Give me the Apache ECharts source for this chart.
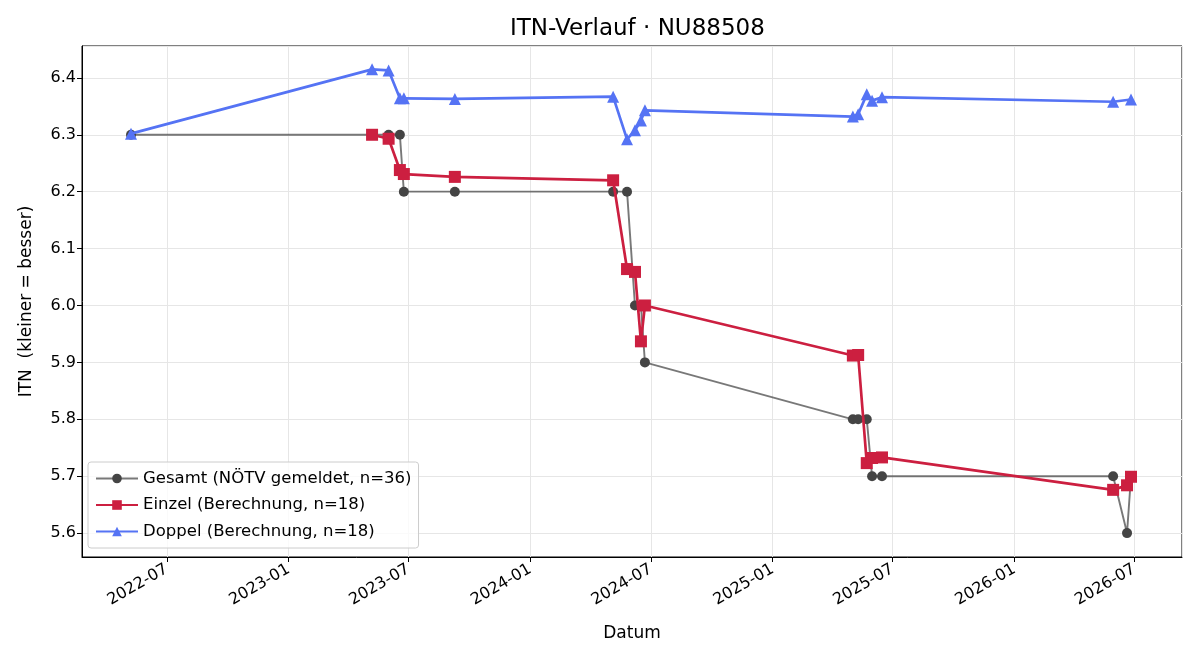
<!DOCTYPE html>
<html>
<head>
    <meta charset="utf-8">
    <title>ITN-Verlauf</title>
    <script src="https://cdn.jsdelivr.net/npm/echarts@6/dist/echarts.min.js"></script>
    <style>
        html, body { margin: 0; padding: 0; background: #fff; }
        #chart1 { width: 1200px; height: 660px; }
    </style>
</head>
<body>
<div id="chart1"></div>
<script type="text/javascript">

    // Gesamt (NÖTV gemeldet)
    var gesamtDates = ['2022-05-08', '2023-05-07', '2023-06-01', '2023-06-18', '2023-06-24', '2023-09-09',
        '2024-05-05', '2024-05-26', '2024-06-07', '2024-06-16', '2024-06-22',
        '2025-05-02', '2025-05-10', '2025-05-23', '2025-05-31', '2025-06-15',
        '2026-05-30', '2026-06-20', '2026-06-26'];
    var gesamtValues = [6.3, 6.3, 6.3, 6.3, 6.2, 6.2,
        6.2, 6.2, 6.0, 6.0, 5.9,
        5.8, 5.8, 5.8, 5.7, 5.7,
        5.7, 5.6, 5.7];

    // Einzel (Berechnung)
    var einzelDates = ['2023-05-07', '2023-06-01', '2023-06-18', '2023-06-24', '2023-09-09',
        '2024-05-05', '2024-05-26', '2024-06-07', '2024-06-16', '2024-06-22',
        '2025-05-02', '2025-05-10', '2025-05-23', '2025-05-31', '2025-06-15',
        '2026-05-30', '2026-06-20', '2026-06-26'];
    var einzelValues = [6.300, 6.293, 6.238, 6.231, 6.226,
        6.220, 6.064, 6.059, 5.937, 6.000,
        5.912, 5.913, 5.723, 5.732, 5.733,
        5.676, 5.684, 5.699];

    // Doppel (Berechnung)
    var doppelDates = ['2022-05-08', '2023-05-07', '2023-06-01', '2023-06-18', '2023-06-24', '2023-09-09',
        '2024-05-05', '2024-05-26', '2024-06-07', '2024-06-16', '2024-06-22',
        '2025-05-02', '2025-05-10', '2025-05-23', '2025-05-31', '2025-06-15',
        '2026-05-30', '2026-06-26'];
    var doppelValues = [6.302, 6.415, 6.413, 6.364, 6.364, 6.363,
        6.367, 6.292, 6.308, 6.325, 6.343,
        6.332, 6.336, 6.371, 6.360, 6.366,
        6.358, 6.362];

    function pairs(dates, values) {
        return dates.map(function (d, i) { return [d, values[i]]; });
    }

    var font = 'DejaVu Sans';
    var myChart1 = echarts.init(document.getElementById('chart1'));

    myChart1.setOption({
        animation: false,
        textStyle: { fontFamily: font },
        title: {
            text: 'ITN-Verlauf · NU88508',
            left: 505,
            top: 13,
            textStyle: { fontFamily: font, fontSize: 23, fontWeight: 'normal', color: '#000' }
        },
        grid: {
            left: 82, right: 18, top: 46, bottom: 103,
            show: true, borderColor: '#000', borderWidth: 1
        },
        legend: {
            orient: 'vertical',
            left: 88, top: 462,
            itemWidth: 42, itemHeight: 12, itemGap: 9.5,
            padding: [8, 7, 8, 7],
            borderColor: '#cccccc', borderWidth: 1, borderRadius: 3,
            backgroundColor: 'rgba(255,255,255,0.8)',
            textStyle: { fontFamily: font, fontSize: 16.5, color: '#000' },
            data: ['Gesamt (NÖTV gemeldet, n=36)', 'Einzel (Berechnung, n=18)', 'Doppel (Berechnung, n=18)']
        },
        xAxis: {
            type: 'time',
            min: '2022-02-23',
            max: '2026-09-11',
            minInterval: 180 * 86400000,
            maxInterval: 184 * 86400000,
            name: 'Datum',
            nameLocation: 'middle',
            nameGap: 68,
            nameTextStyle: { fontFamily: font, fontSize: 17, color: '#000' },
            axisLine: { show: true, lineStyle: { color: '#000' } },
            axisTick: { show: true, length: 5, lineStyle: { color: '#000' } },
            axisLabel: {
                rotate: 30,
                margin: 11,
                fontFamily: font, fontSize: 16, color: '#000',
                showMinLabel: false, showMaxLabel: false,
                formatter: function (v) { return echarts.time.format(v, '{yyyy}-{MM}', false); }
            },
            splitLine: { show: true, lineStyle: { color: '#e6e6e6' } }
        },
        yAxis: {
            type: 'value',
            min: 5.558,
            max: 6.456,
            splitNumber: 9,
            name: 'ITN  (kleiner = besser)',
            nameLocation: 'middle',
            nameGap: 47,
            nameTextStyle: { fontFamily: font, fontSize: 17, color: '#000' },
            axisLine: { show: true, lineStyle: { color: '#000' } },
            axisTick: { show: true, length: 5, lineStyle: { color: '#000' } },
            axisLabel: {
                margin: 6,
                fontFamily: font, fontSize: 16, color: '#000',
                showMinLabel: false, showMaxLabel: false,
                formatter: function (v) { return v.toFixed(1); }
            },
            splitLine: { show: true, lineStyle: { color: '#e6e6e6' } }
        },
        series: [{
            name: 'Gesamt (NÖTV gemeldet, n=36)',
            type: 'line',
            data: pairs(gesamtDates, gesamtValues),
            symbol: 'circle',
            symbolSize: 10,
            lineStyle: { color: 'rgba(68,68,68,0.72)', width: 1.9 },
            itemStyle: { color: '#444444' },
            z: 2
        }, {
            name: 'Einzel (Berechnung, n=18)',
            type: 'line',
            data: pairs(einzelDates, einzelValues),
            symbol: 'rect',
            symbolSize: 12,
            lineStyle: { color: '#cc1f40', width: 2.7 },
            itemStyle: { color: '#cc1f40' },
            z: 3
        }, {
            name: 'Doppel (Berechnung, n=18)',
            type: 'line',
            data: pairs(doppelDates, doppelValues),
            symbol: 'triangle',
            symbolSize: 12,
            lineStyle: { color: '#5573f4', width: 2.7 },
            itemStyle: { color: '#5573f4' },
            z: 4
        }]
    });
</script>
</body>
</html>
